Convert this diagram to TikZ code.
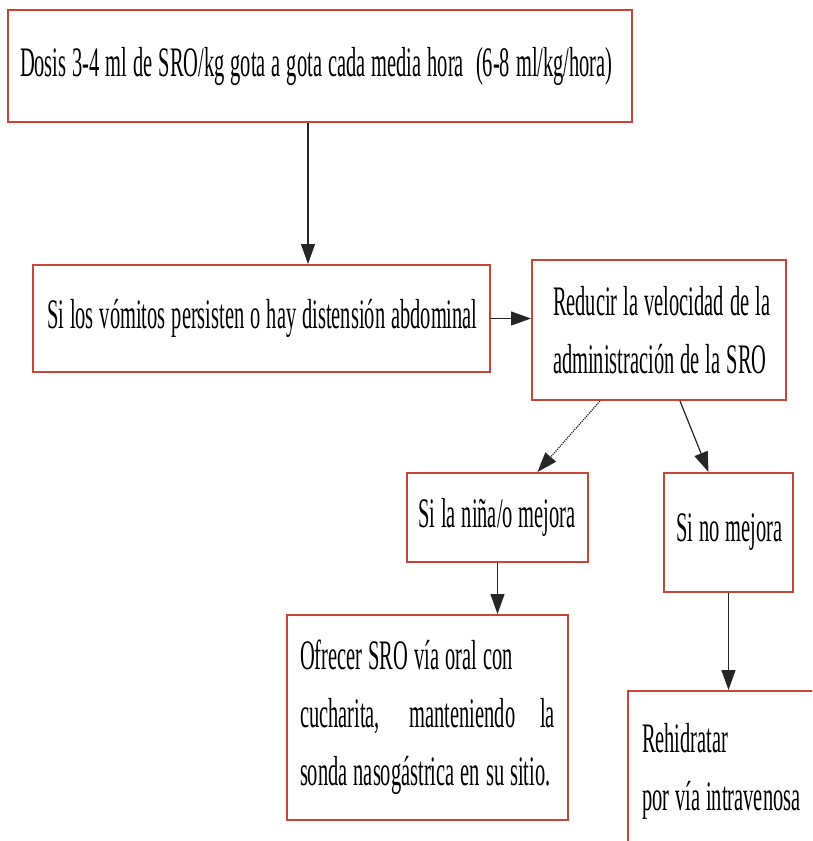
\documentclass[tikz,border=0pt]{standalone}
\usepackage{fontspec}
\setmainfont[FakeStretch=0.487]{Liberation Serif}
\usetikzlibrary{arrows.meta}
\definecolor{boxred}{RGB}{200,70,55}
\newcommand\boxfont{\fontsize{42}{58}\selectfont\fontdimen2\font=6pt\fontdimen3\font=1pt\fontdimen4\font=1pt}
\hbadness=10000 \hfuzz=200pt
\begin{document}
\begin{tikzpicture}[x=1pt,y=-1pt,
  box/.style={draw=boxred,line width=2pt,rectangle,inner ysep=0pt,align=left,font=\boxfont,
    execute at begin node={\spaceskip=6pt plus 1pt minus 1pt\xspaceskip=6pt plus 1pt minus 1pt}},
  conn/.style={draw=black!85,line width=1.2pt,-{Triangle[length=20pt,width=14pt]}}]
\useasboundingbox (0,0) rectangle (812,841);
\clip (0,0) rectangle (812,841);
\node[box,inner xsep=12pt,text width=600pt,minimum width=624pt,minimum height=112pt] (b1) at (320,66)
  {\mbox{Dosis 3-4 ml de SRO/kg gota a gota cada media hora\hspace{12pt}(6-8 ml/kg/hora)}};
\node[box,inner xsep=14pt,text width=429pt,minimum width=457pt,minimum height=107pt] (b2) at (261.5,318.5)
  {\mbox{Si los vómitos persisten o hay distensión abdominal}};
\node[box,inner xsep=21pt,text width=212pt,minimum width=254pt,minimum height=140pt] (b3) at (659,330)
  {\mbox{Reducir la velocidad de la}\\\mbox{administración de la SRO}};
\node[box,inner xsep=11pt,text width=159pt,minimum width=181pt,minimum height=89pt] (b4) at (497.5,517.5)
  {\mbox{Si la niña/o mejora}};
\node[box,inner xsep=12pt,text width=105pt,minimum width=129pt,minimum height=119pt,align=center] (b5) at (728.5,532.5)
  {\mbox{Si no mejora}};
\node[box,inner xsep=13pt,text width=255pt,minimum width=281pt,minimum height=205pt] (b6) at (427.5,717.5)
  {\mbox{Ofrecer SRO vía oral con}\\\makebox[255pt][s]{cucharita, manteniendo la}\\\mbox{sonda nasogástrica en su sitio.}};
\node[box,anchor=north west,inner xsep=14pt,text width=172pt,minimum width=200pt,minimum height=160pt] (b7) at (627,690)
  {\mbox{Rehidratar}\\\mbox{por vía intravenosa}};
\draw[conn] ([xshift=-12pt]b1.south) -- ([xshift=-12pt]b1.south |- b2.north);
\draw[conn] (b2.east) -- (b3.west |- b2.east);
\draw[conn,densely dotted] ([xshift=-59pt]b3.south) -- ([xshift=40pt]b4.north);
\draw[conn] ([xshift=21pt]b3.south) -- ([xshift=-20pt]b5.north);
\draw[conn] (b4.south) -- (b4.south |- b6.north);
\draw[conn] (b5.south) -- (b5.south |- b7.north);
\end{tikzpicture}
\end{document}
